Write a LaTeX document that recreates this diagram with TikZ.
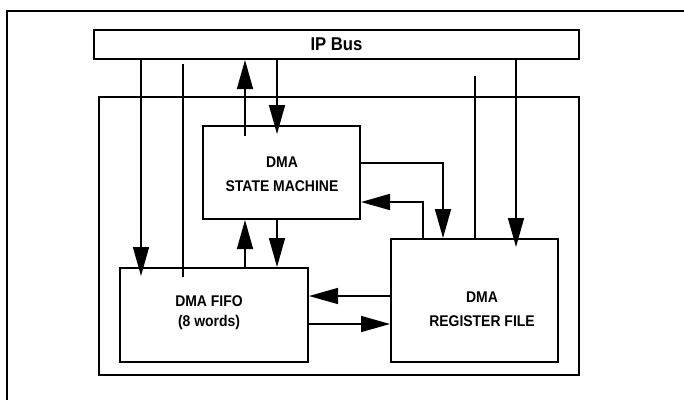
\documentclass[tikz,border=0pt]{standalone}
\usepackage{fontspec}
\setmainfont[FakeStretch=0.9]{Liberation Sans}
\usetikzlibrary{arrows.meta}
\begin{document}
\begin{tikzpicture}[x=1pt,y=-1pt,
  box/.style={draw,line width=2pt,rectangle,inner sep=0pt},
  lbl/.style={font=\bfseries\fontsize{15.5}{24}\selectfont,align=center,inner sep=0pt},
  conn/.style={line width=1.6pt},
  arr/.style={conn,-{Triangle[length=29pt,width=16pt]}}]
\useasboundingbox (0,0) rectangle (684,400);
% outer frame
\draw[line width=2pt] (7,400) -- (7,11) -- (684,11);
% boxes
\node[box,minimum width=485pt,minimum height=29pt,font=\bfseries\fontsize{18.5}{22}\selectfont] (bus) at (336.5,44.5) {IP Bus};
\node[box,minimum width=480pt,minimum height=278pt] (inner) at (339,236) {};
\node[box,minimum width=157pt,minimum height=93pt] (sm) at (281.5,172.5) {};
\node[box,minimum width=188pt,minimum height=94pt] (fifo) at (214,315) {};
\node[box,minimum width=167pt,minimum height=123pt] (rf) at (474.5,300.5) {};
% labels
\node[lbl] (smt) at (282,174) {DMA\\STATE MACHINE};
\node[lbl] (fifot) at (209,313) {DMA FIFO\\[-4pt](8 words)};
\node[lbl] (rft) at (482,309) {DMA\\REGISTER FILE};
% x / y guides
\coordinate (x141) at (141,0);
\coordinate (x183) at (183,0);
\coordinate (x245) at (245,0);
\coordinate (x277) at (277,0);
\coordinate (x423) at (423,0);
\coordinate (x443) at (443,0);
\coordinate (x475) at (475,0);
\coordinate (x516) at (516,0);
\coordinate (y163) at (0,163);
\coordinate (y202) at (0,202);
\coordinate (y296) at (0,296);
\coordinate (y324) at (0,324);
% bus connections
\draw[arr] (bus.south -| x141) -- ([yshift=-9pt]fifo.north -| x141);
\draw[conn] ([yshift=-4pt]bus.south -| x183) -- ([yshift=-10pt]fifo.north -| x183);
\draw[arr] ([yshift=-11pt]sm.north -| x245) -- (bus.south -| x245);
\draw[arr] (bus.south -| x277) -- ([yshift=-9pt]sm.north -| x277);
\draw[conn] ([yshift=-16pt]bus.south -| x475) -- (rf.north -| x475);
\draw[arr] (bus.south -| x516) -- ([yshift=-9pt]rf.north -| x516);
% SM <-> FIFO
\draw[arr] (fifo.north -| x245) -- (sm.south -| x245);
\draw[arr] (sm.south -| x277) -- (fifo.north -| x277);
% SM <-> RF
\draw[arr] (sm.east |- y163) -| (rf.north -| x443);
\draw[arr] (rf.north -| x423) |- (sm.east |- y202);
% FIFO <-> RF
\draw[arr] (rf.west |- y296) -- (fifo.east |- y296);
\draw[arr] (fifo.east |- y324) -- (rf.west |- y324);
\end{tikzpicture}
\end{document}
